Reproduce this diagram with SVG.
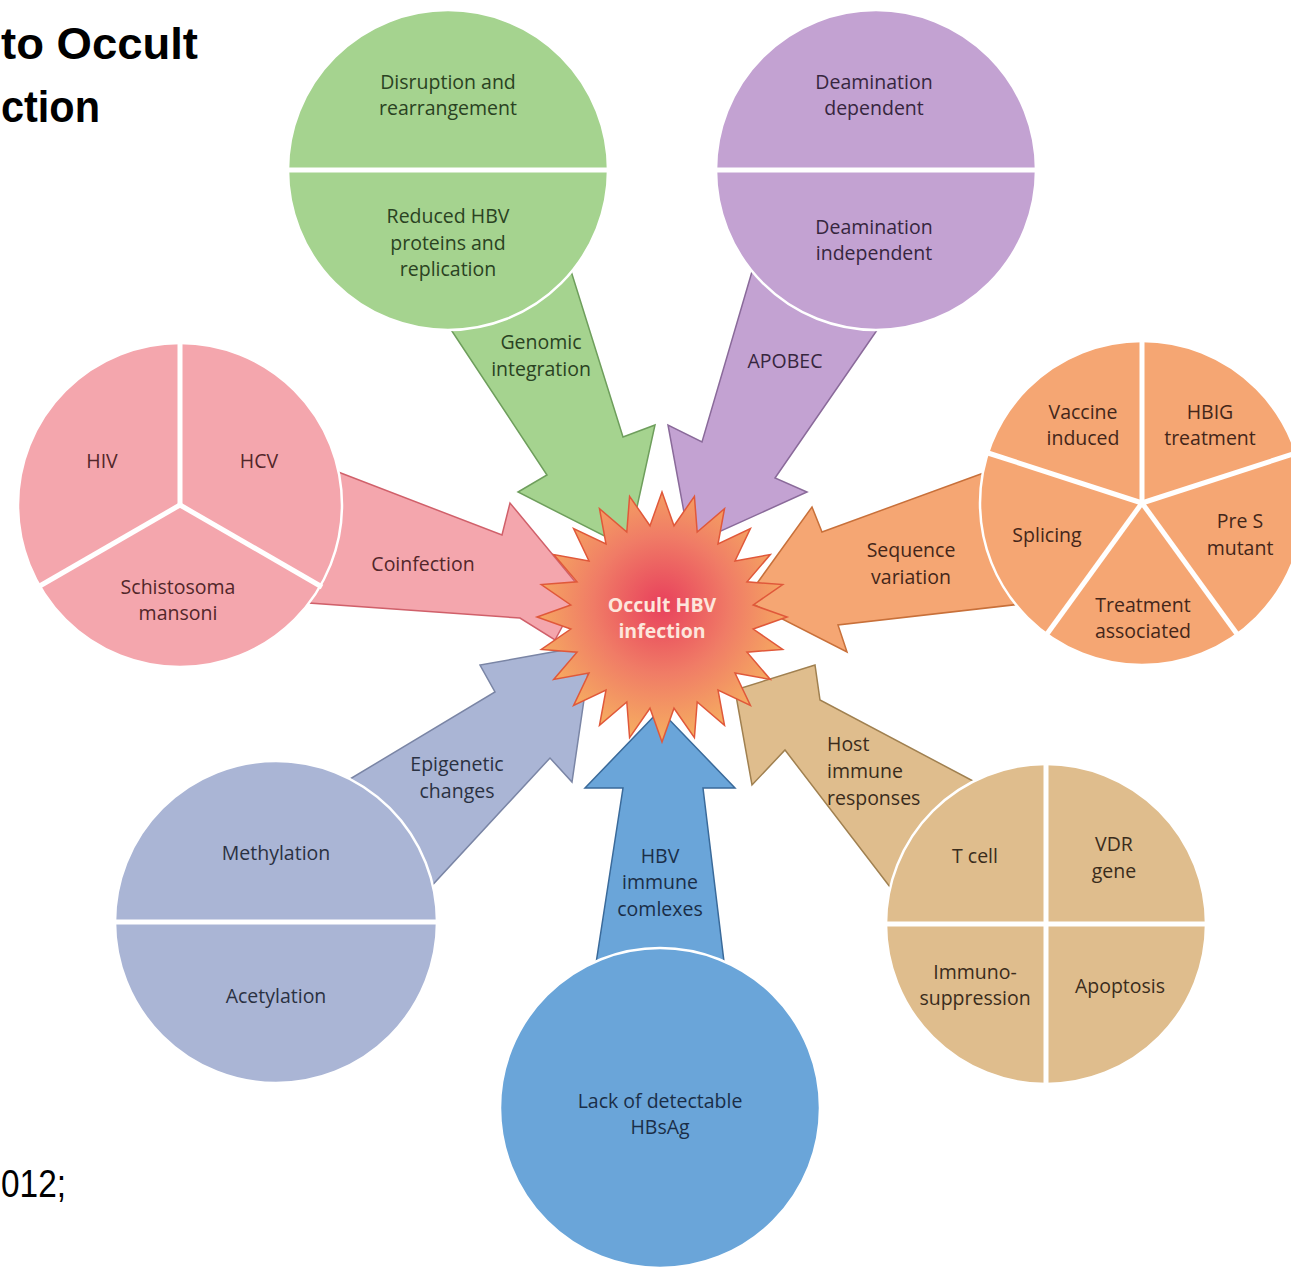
<svg xmlns="http://www.w3.org/2000/svg" width="1291" height="1268" viewBox="0 0 1291 1268">
<defs>
<radialGradient id="burst" cx="50%" cy="45%" r="55%">
<stop offset="0" stop-color="#e8405c"/>
<stop offset="0.5" stop-color="#f07c66"/>
<stop offset="1" stop-color="#f6b060"/>
</radialGradient>
<style>
.t{font-family:"Open Sans","Noto Sans","Liberation Sans",sans-serif;font-size:19.5px;text-anchor:middle}
.div{stroke:#ffffff;stroke-width:5;fill:none}
.circ{stroke:#ffffff;stroke-width:2.5}
.arr{stroke-width:1.5;stroke-linejoin:miter}
</style>
</defs>
<rect width="1291" height="1268" fill="#ffffff"/>
<g id="title" font-family="'Liberation Sans',Arial,sans-serif" font-weight="bold" font-size="45" fill="#000">
<text x="1" y="59" textLength="197" lengthAdjust="spacingAndGlyphs">to Occult</text>
<text x="1" y="122" textLength="99" lengthAdjust="spacingAndGlyphs">ction</text>
</g>
<text id="cite" x="1" y="1197" font-family="'Liberation Sans',Arial,sans-serif" font-size="38" textLength="65" lengthAdjust="spacingAndGlyphs" fill="#000">012;</text>
<g id="connectors">
<polygon class="arr" fill="#a5d38f" stroke="#6e9e5c" points="440,313 547,475 518,492 628,548 655,425 623,437 566,255"/>
<polygon class="arr" fill="#c3a2d2" stroke="#8a6a9a" points="756,258 702,442 668,425 690,545 807,492 775,478 884,320"/>
<polygon class="arr" fill="#f4a6ad" stroke="#d0606a" points="320,465 502,535 510,503 582,590 555,640 520,618 295,602"/>
<polygon class="arr" fill="#f5a673" stroke="#c8703a" points="1000,467 822,532 812,507 745,600 847,652 838,625 1030,603"/>
<polygon class="arr" fill="#aab5d5" stroke="#7a85a5" points="335,788 495,692 480,665 592,645 572,782 550,758 425,893"/>
<polygon class="arr" fill="#6aa5d9" stroke="#3a6a9a" points="660,710 585,788 623,788 595,970 725,970 703,788 735,788"/>
<polygon class="arr" fill="#dfbd8d" stroke="#a08050" points="990,790 820,700 815,665 735,690 752,785 785,750 900,900"/>
</g>
<g id="n-genomic">
<circle class="circ" cx="448" cy="170" r="160" fill="#a5d38f"/>
<line class="div" x1="286" y1="170" x2="610" y2="170"/>
<g class="t" fill="#2a4222">
<text x="448" y="89">Disruption and</text>
<text x="448" y="115">rearrangement</text>
<text x="448" y="223">Reduced HBV</text>
<text x="448" y="250">proteins and</text>
<text x="448" y="276">replication</text>
</g>
</g>
<g id="n-apobec">
<circle class="circ" cx="876" cy="170" r="160" fill="#c3a2d2"/>
<line class="div" x1="714" y1="170" x2="1038" y2="170"/>
<g class="t" fill="#36263e">
<text x="874" y="89">Deamination</text>
<text x="874" y="115">dependent</text>
<text x="874" y="234">Deamination</text>
<text x="874" y="260">independent</text>
</g>
</g>
<g id="n-coinfection">
<circle class="circ" cx="180" cy="505" r="162" fill="#f4a6ad"/>
<line class="div" x1="180" y1="505" x2="180" y2="341"/>
<line class="div" x1="180" y1="505" x2="38" y2="587"/>
<line class="div" x1="180" y1="505" x2="322" y2="587"/>
<g class="t" fill="#52262a">
<text x="102" y="468">HIV</text>
<text x="259" y="468">HCV</text>
<text x="178" y="594">Schistosoma</text>
<text x="178" y="620">mansoni</text>
</g>
</g>
<g id="n-sequence">
<circle class="circ" cx="1142" cy="503" r="162" fill="#f5a673"/>
<line class="div" x1="1142" y1="503" x2="1142" y2="339"/>
<line class="div" x1="1142" y1="503" x2="1296" y2="453"/>
<line class="div" x1="1142" y1="503" x2="1237" y2="634"/>
<line class="div" x1="1142" y1="503" x2="1047" y2="634"/>
<line class="div" x1="1142" y1="503" x2="988" y2="453"/>
<g class="t" fill="#44261a">
<text x="1083" y="419">Vaccine</text>
<text x="1083" y="445">induced</text>
<text x="1210" y="419">HBIG</text>
<text x="1210" y="445">treatment</text>
<text x="1047" y="542">Splicing</text>
<text x="1240" y="528">Pre S</text>
<text x="1240" y="555">mutant</text>
<text x="1143" y="612">Treatment</text>
<text x="1143" y="638">associated</text>
</g>
</g>
<g id="n-host">
<circle class="circ" cx="1046" cy="924" r="160" fill="#dfbd8d"/>
<line class="div" x1="1046" y1="762" x2="1046" y2="1086"/>
<line class="div" x1="884" y1="924" x2="1208" y2="924"/>
<g class="t" fill="#3a2c1c">
<text x="975" y="863">T cell</text>
<text x="1114" y="851">VDR</text>
<text x="1114" y="878">gene</text>
<text x="975" y="979">Immuno-</text>
<text x="975" y="1005">suppression</text>
<text x="1120" y="993">Apoptosis</text>
</g>
</g>
<g id="n-epigenetic">
<circle class="circ" cx="276" cy="922" r="161" fill="#aab5d5"/>
<line class="div" x1="113" y1="922" x2="439" y2="922"/>
<g class="t" fill="#2a3142">
<text x="276" y="860">Methylation</text>
<text x="276" y="1003">Acetylation</text>
</g>
</g>
<g id="n-hbsag">
<circle class="circ" cx="660" cy="1108" r="160" fill="#6aa5d9"/>
<g class="t" fill="#1a2e48">
<text x="660" y="1108">Lack of detectable</text>
<text x="660" y="1134">HBsAg</text>
</g>
</g>
<g id="arrow-labels" class="t">
<g fill="#2a4222"><text x="541" y="349">Genomic</text><text x="541" y="376">integration</text></g>
<text x="785" y="368" fill="#36263e">APOBEC</text>
<text x="423" y="571" fill="#52262a">Coinfection</text>
<g fill="#44261a"><text x="911" y="557">Sequence</text><text x="911" y="584">variation</text></g>
<g fill="#2a3142"><text x="457" y="771">Epigenetic</text><text x="457" y="798">changes</text></g>
<g fill="#1a2e48"><text x="660" y="863">HBV</text><text x="660" y="889">immune</text><text x="660" y="916">comlexes</text></g>
<g fill="#3a2c1c" style="text-anchor:start"><text x="827" y="751">Host</text><text x="827" y="778">immune</text><text x="827" y="805">responses</text></g>
</g>
<g id="n-center">
<polygon fill="url(#burst)" stroke="#e0583a" stroke-width="1.5" points="662,492 674,525.8 694.4,496.3 697.2,532 724.5,508.7 718,544 750.4,528.6 735,561 770.3,554.5 747,581.8 782.7,584.6 753.2,605 787,617 753.2,629 782.7,649.4 747,652.2 770.3,679.5 735,673 750.4,705.4 718,690 724.5,725.3 697.2,702 694.4,737.7 674,708.2 662,742 650,708.2 629.6,737.7 626.8,702 599.5,725.3 606,690 573.6,705.4 589,673 553.7,679.5 577,652.2 541.3,649.4 570.8,629 537,617 570.8,605 541.3,584.6 577,581.8 553.7,554.5 589,561 573.6,528.6 606,544 599.5,508.7 626.8,532 629.6,496.3 650,525.8"/>
<g class="t" fill="#fde6dc" font-weight="bold">
<text x="662" y="612">Occult HBV</text>
<text x="662" y="638">infection</text>
</g>
</g>
</svg>
